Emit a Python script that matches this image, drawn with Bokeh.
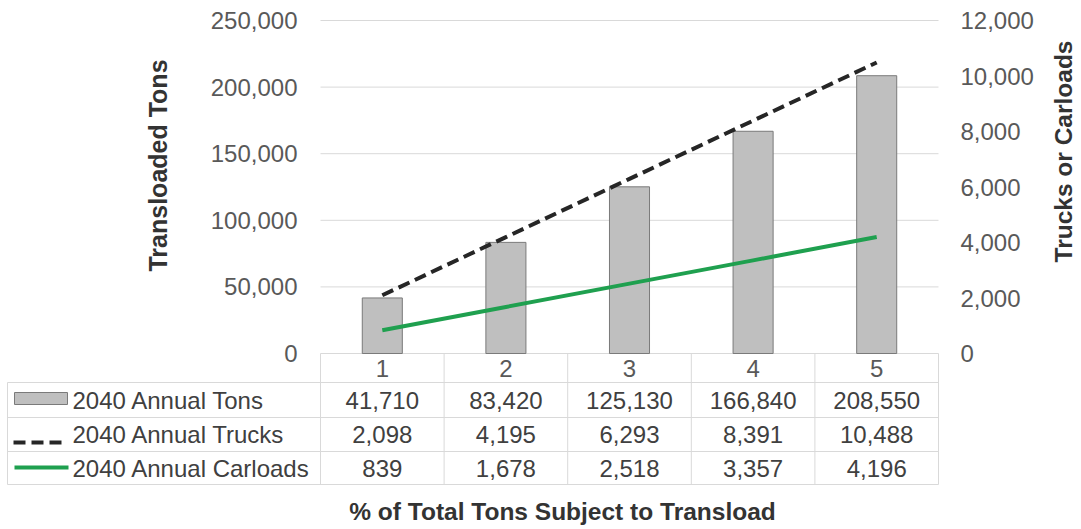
import math
from bokeh.plotting import figure
from bokeh.models import (Range1d, LinearAxis, FixedTicker, ColumnDataSource,
                          NumeralTickFormatter)
from bokeh.core.properties import value
from bokeh.embed import file_html
from bokeh.resources import INLINE

# ---------------- data ----------------
categories = [1, 2, 3, 4, 5]
category_labels = ["1", "2", "3", "4", "5"]
annual_tons = [41710, 83420, 125130, 166840, 208550]
annual_trucks = [2098, 4195, 6293, 8391, 10488]
annual_carloads = [839, 1678, 2518, 3357, 4196]
series_names = ["2040 Annual Tons", "2040 Annual Trucks", "2040 Annual Carloads"]
left_ticks = [0, 50000, 100000, 150000, 200000, 250000]
right_ticks = [0, 2000, 4000, 6000, 8000, 10000, 12000]
x_title = "% of Total Tons Subject to Transload"
left_title = "Transloaded Tons"
right_title = "Trucks or Carloads"

# ---------------- layout helpers (canvas pixels -> data) ----------------
W, H = 1081, 529
LEFT_MAX, RIGHT_MAX = 250000, 12000
ZERO_Y, TOP_Y = 353, 20          # px of 0 and of the max gridline
PLOT_PX = ZERO_Y - TOP_Y
COL_PX = (938 - 320) / 5.0

def X(px):
    return 0.5 + (px - 320) / COL_PX

def Y(py):
    return (ZERO_Y - py) * LEFT_MAX / PLOT_PX

def YR(py):
    return (ZERO_Y - py) * RIGHT_MAX / PLOT_PX

FONT = "Liberation Sans"
GRID = "#D9D9D9"
TXT = "#404040"
TICK = "#595959"
TITLE = "#333333"
DASH = "12 6"

p = figure(width=W, height=H, output_backend="svg", toolbar_location=None,
           x_range=Range1d(X(0), X(W)), y_range=Range1d(Y(H), Y(0)),
           x_axis_location=None, y_axis_location=None,
           min_border=0, min_border_left=0, min_border_right=0,
           min_border_top=0, min_border_bottom=0)
p.outline_line_color = None
p.background_fill_color = "white"
p.border_fill_color = "white"
p.xgrid.visible = False
p.ygrid.visible = False
p.extra_y_ranges = {"right": Range1d(YR(H), YR(0))}

def style_axis(a, standoff):
    a.axis_line_color = None
    a.major_tick_line_color = None
    a.minor_tick_line_color = None
    a.major_tick_out = 0
    a.major_tick_in = 0
    a.minor_tick_out = 0
    a.minor_tick_in = 0
    a.major_label_standoff = standoff
    a.major_label_text_font = FONT
    a.major_label_text_font_size = "24px"
    a.major_label_text_color = TICK

# left axis, pinned to the left edge of the category area
lax = LinearAxis(ticker=FixedTicker(ticks=left_ticks),
                 formatter=NumeralTickFormatter(format="0,0"), fixed_location=0.5)
style_axis(lax, 23)
p.add_layout(lax, "left")

# right axis, pinned to the right edge of the category area
rax = LinearAxis(y_range_name="right", ticker=FixedTicker(ticks=right_ticks),
                 formatter=NumeralTickFormatter(format="0,0"), fixed_location=5.5)
style_axis(rax, 22)
p.add_layout(rax, "right")

# horizontal gridlines at the left-axis ticks, spanning the category area
p.segment(x0=[0.5] * len(left_ticks), x1=[5.5] * len(left_ticks),
          y0=left_ticks, y1=left_ticks, line_color=GRID, line_width=1)

# ---------------- bars and lines ----------------
src = ColumnDataSource(dict(x=categories, tons=annual_tons, trucks=annual_trucks,
                            carloads=annual_carloads))
p.vbar(x="x", top="tons", bottom=0, width=0.324, source=src,
       fill_color="#BFBFBF", line_color="#7A7A7A", line_width=1)
p.line(x="x", y="trucks", source=src, y_range_name="right",
       line_color="#262626", line_width=4, line_dash=DASH)
p.line(x="x", y="carloads", source=src, y_range_name="right",
       line_color="#1FA04F", line_width=4)

# ---------------- data table ----------------
row_edges = [353, 382, 417, 451, 484]
row_mid = [(row_edges[i] + row_edges[i + 1]) / 2.0 for i in range(4)]
col_edges = [0.5 + i for i in range(6)]

# horizontal table lines (legend column + value columns)
p.segment(x0=[X(7)] * 4, x1=[5.5] * 4, y0=[Y(v) for v in row_edges[1:]],
          y1=[Y(v) for v in row_edges[1:]], line_color=GRID, line_width=1)
# vertical table lines
p.segment(x0=col_edges, x1=col_edges, y0=[0] * 6, y1=[Y(484)] * 6,
          line_color=GRID, line_width=1)
p.segment(x0=[X(7)], x1=[X(7)], y0=[Y(382)], y1=[Y(484)],
          line_color=GRID, line_width=1)

# header row (category numbers)
p.text(x=categories, y=[Y(row_mid[0])] * 5, text=category_labels,
       text_font=value(FONT), text_font_size="24px", text_color=TICK,
       text_align="center", text_baseline="middle")

for r, vals in enumerate([annual_tons, annual_trucks, annual_carloads]):
    p.text(x=categories, y=[Y(row_mid[r + 1])] * 5, text=[f"{v:,}" for v in vals],
           text_font=value(FONT), text_font_size="24px", text_color=TXT,
           text_align="center", text_baseline="middle")

# legend keys
p.quad(left=[X(14)], right=[X(67)], top=[Y(392)], bottom=[Y(404)],
       fill_color="#BFBFBF", line_color="#7A7A7A", line_width=1)
p.line(x=[X(13), X(62)], y=[Y(442), Y(442)], line_color="#262626",
       line_width=4, line_dash=DASH)
p.line(x=[X(14), X(68)], y=[Y(467), Y(467)], line_color="#1FA04F", line_width=4)

p.text(x=[X(72)] * 3, y=[Y(m) for m in row_mid[1:]], text=series_names,
       text_font=value(FONT), text_font_size="24px", text_color=TXT,
       text_align="left", text_baseline="middle")

# ---------------- titles ----------------
p.text(x=[X(157)], y=[Y(165)], text=[left_title], angle=math.pi / 2,
       text_font=value(FONT), text_font_size="25px", text_font_style="bold",
       text_color=TITLE, text_align="center", text_baseline="middle")
p.text(x=[X(1063)], y=[Y(151)], text=[right_title], angle=math.pi / 2,
       text_font=value(FONT), text_font_size="24.5px", text_font_style="bold",
       text_color=TITLE, text_align="center", text_baseline="middle")
p.text(x=[X(562)], y=[Y(510.5)], text=[x_title],
       text_font=value(FONT), text_font_size="24.5px", text_font_style="bold",
       text_color=TITLE, text_align="center", text_baseline="middle")

open("out.html", "w").write(file_html(p, INLINE))
